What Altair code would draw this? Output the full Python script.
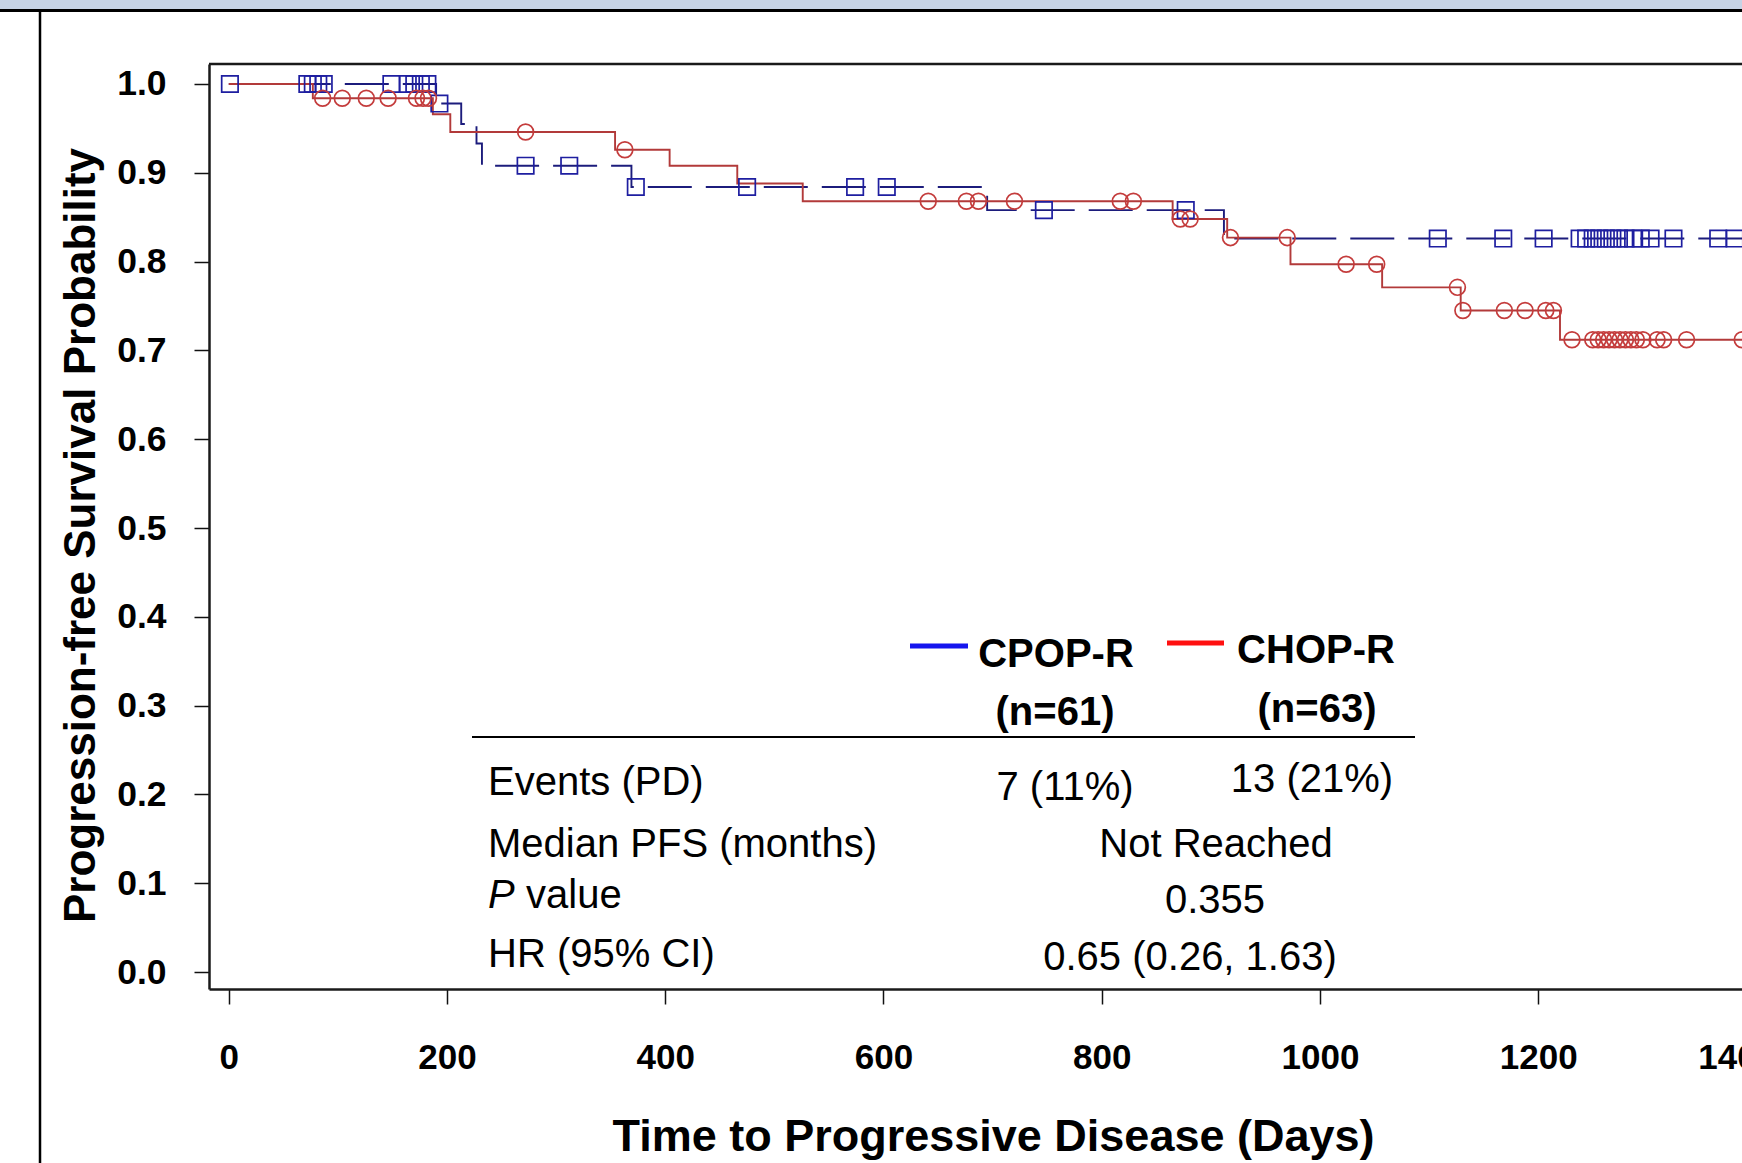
import altair as alt
import pandas as pd

# ---------------- data ----------------
cpop_event_days = [0, 190, 213, 227, 232, 369, 695, 912, 1400]
cpop_surv = [1.0, 0.978, 0.955, 0.933, 0.908, 0.884, 0.858, 0.826, 0.826]
cpop_censor_days = [1, 72, 77, 82, 87, 149, 164, 170, 176, 182, 193, 272, 312,
                    373, 475, 574, 603, 747, 877, 1108, 1168, 1205, 1238, 1244,
                    1250, 1256, 1262, 1268, 1274, 1280, 1287, 1294, 1303, 1324,
                    1365, 1380]

chop_event_days = [0, 77, 187, 203, 354, 404, 466, 526, 865, 915, 973, 1057,
                   1129, 1220, 1400]
chop_surv = [1.0, 0.984, 0.966, 0.946, 0.926, 0.908, 0.888, 0.868, 0.848, 0.827,
             0.797, 0.771, 0.745, 0.712, 0.712]
chop_censor_days = [86, 104, 126, 146, 172, 178, 183, 272, 363, 641, 676, 687,
                    720, 817, 829, 872, 881, 918, 970, 1024, 1052, 1126, 1131,
                    1169, 1188, 1207, 1214, 1231, 1250, 1255, 1260, 1265, 1270,
                    1275, 1280, 1285, 1290, 1296, 1309, 1315, 1336, 1387]

# the 1400 label sits at the cut-off right edge of the picture
x_ticks = [0, 200, 400, 600, 800, 1000, 1200]
x_edge_label_pos = 1382
x_edge_label = "1400"
y_ticks = [0.0, 0.1, 0.2, 0.3, 0.4, 0.5, 0.6, 0.7, 0.8, 0.9, 1.0]

group_names = ["CPOP-R", "CHOP-R"]
group_ns = ["(n=61)", "(n=63)"]
events_text = ["7 (11%)", "13 (21%)"]
median_text = "Not Reached"
p_text = "0.355"
hr_text = "0.65 (0.26, 1.63)"
row_labels = ["Events (PD)", "Median PFS (months)", "HR (95% CI)"]

x_title = "Time to Progressive Disease (Days)"
y_title = "Progression-free Survival Probability"


def level_at(days, surv, t):
    s = surv[0]
    for d, v in zip(days, surv):
        if d <= t:
            s = v
    return s


cpop_line = pd.DataFrame({"day": cpop_event_days, "surv": cpop_surv})
chop_line = pd.DataFrame({"day": chop_event_days, "surv": chop_surv})
cpop_cens = pd.DataFrame({"day": cpop_censor_days,
                          "surv": [level_at(cpop_event_days, cpop_surv, t) for t in cpop_censor_days]})
chop_cens = pd.DataFrame({"day": chop_censor_days,
                          "surv": [level_at(chop_event_days, chop_surv, t) for t in chop_censor_days]})

# ---------------- layout ----------------
W, H = 1533, 925
PAD_L, PAD_T = 209, 64
FONT = "Liberation Sans, Arial, sans-serif"

xscale = alt.Scale(domain=[-18.15, 1386.8], nice=False, zero=False)
yscale = alt.Scale(domain=[-0.01914, 1.02252], nice=False, zero=False)

edge_test = f"datum.value == {x_edge_label_pos}"
xaxis = alt.Axis(values=x_ticks + [x_edge_label_pos], format="d", grid=False,
                 title=x_title,
                 labelExpr=f"{edge_test} ? '{x_edge_label}' : datum.label",
                 labelFont=FONT, labelFontWeight="bold", labelFontSize=35,
                 labelColor="black", labelPadding=36, labelFlush=False,
                 labelOverlap=False, labelBound=False,
                 tickSize=15, tickWidth=1.5,
                 tickColor={"condition": {"test": edge_test, "value": "rgba(0,0,0,0)"}, "value": "#111"},
                 domainColor="#1a1a1a", domainWidth=2.5,
                 titleFont=FONT, titleFontWeight="bold", titleFontSize=45,
                 titleColor="black", titleX=784, titleY=147,
                 titleAlign="center", titleBaseline="middle")
yaxis = alt.Axis(values=y_ticks, format=".1f", grid=False, title=y_title,
                 labelFont=FONT, labelFontWeight="bold", labelFontSize=35.5,
                 labelColor="black", labelPadding=28, labelOverlap=False,
                 labelFlush=False,
                 tickSize=15, tickWidth=1.5, tickColor="#111",
                 domainColor="#1a1a1a", domainWidth=2.5,
                 titleFont=FONT, titleFontWeight="bold", titleFontSize=44,
                 titleColor="black", titleX=-128, titleY=471, titleAngle=270,
                 titleAlign="center", titleBaseline="middle")

X = alt.X("day:Q", scale=xscale, axis=xaxis)
Y = alt.Y("surv:Q", scale=yscale, axis=yaxis)

BLUE_LINE = "#1c1c7c"
BLUE_MARK = "#1e1ea0"
RED_LINE = "#b23a3a"
RED_MARK = "#c43c3c"

cpop_l = alt.Chart(cpop_line).mark_line(interpolate="step-after", clip=True,
                                        color=BLUE_LINE, strokeWidth=1.9,
                                        strokeDash=[44, 14]).encode(x=X, y=Y)
chop_l = alt.Chart(chop_line).mark_line(interpolate="step-after", clip=True,
                                        color=RED_LINE, strokeWidth=1.9).encode(x=X, y=Y)
cpop_p = alt.Chart(cpop_cens).mark_point(shape="square", filled=False, size=270,
                                         strokeWidth=1.7, color=BLUE_MARK,
                                         opacity=1, clip=True).encode(x=X, y=Y)
chop_p = alt.Chart(chop_cens).mark_point(shape="circle", filled=False, size=250,
                                         strokeWidth=1.7, color=RED_MARK,
                                         opacity=1, clip=True).encode(x=X, y=Y)


def txt(s, x, y, size=40, weight="normal", align="left", style="normal"):
    return alt.Chart(pd.DataFrame({"t": [s]})).mark_text(
        font=FONT, fontSize=size, fontWeight=weight, fontStyle=style,
        align=align, baseline="alphabetic", color="black"
    ).encode(x=alt.value(x), y=alt.value(y), text="t:N")


def rule(x1, x2, y1, y2, color, width):
    return alt.Chart(pd.DataFrame({"a": [0]})).mark_rule(
        color=color, strokeWidth=width
    ).encode(x=alt.value(x1), x2=alt.value(x2), y=alt.value(y1), y2=alt.value(y2))


layers = [
    # slide decoration outside the plot
    alt.Chart(pd.DataFrame({"a": [0]})).mark_rect(color="#c6d3e5").encode(
        x=alt.value(-PAD_L), x2=alt.value(W), y=alt.value(-PAD_T), y2=alt.value(-55)),
    rule(-PAD_L, W, -53.5, -53.5, "black", 3),
    rule(-169, -169, -53, 1163 - PAD_T, "black", 2.5),
    # top frame
    rule(0, W, 0, 0, "#1a1a1a", 2.5),
    cpop_l, chop_l, cpop_p, chop_p,
    # legend / table header
    rule(701, 759, 582, 582, "#1515ee", 5),
    rule(958, 1015, 579, 579, "#ff1010", 5),
    txt(group_names[0], 847, 603, size=40, weight="bold", align="center"),
    txt(group_names[1], 1107, 599, size=40, weight="bold", align="center"),
    txt(group_ns[0], 846, 661, size=40, weight="bold", align="center"),
    txt(group_ns[1], 1108, 658, size=40, weight="bold", align="center"),
    rule(263, 1206, 673, 673, "black", 2),
    # table rows
    txt(row_labels[0], 279, 731),
    txt(events_text[0], 856, 736, align="center"),
    txt(events_text[1], 1103, 728, align="center"),
    txt(row_labels[1], 279, 793),
    txt(median_text, 1007, 793, align="center"),
    txt("P", 279, 844, style="italic"),
    txt("value", 317, 844),
    txt(p_text, 1006, 849, align="center"),
    txt(row_labels[2], 279, 903),
    txt(hr_text, 981, 906, align="center"),
]

chart = alt.layer(*layers).properties(
    width=W, height=H,
    autosize=alt.AutoSizeParams(type="none"),
    padding={"left": PAD_L, "top": PAD_T, "right": 0, "bottom": 1163 - PAD_T - H},
    background="white",
).configure_view(stroke=None)

chart.save("out.html", embed_options={"renderer": "svg", "actions": False})
